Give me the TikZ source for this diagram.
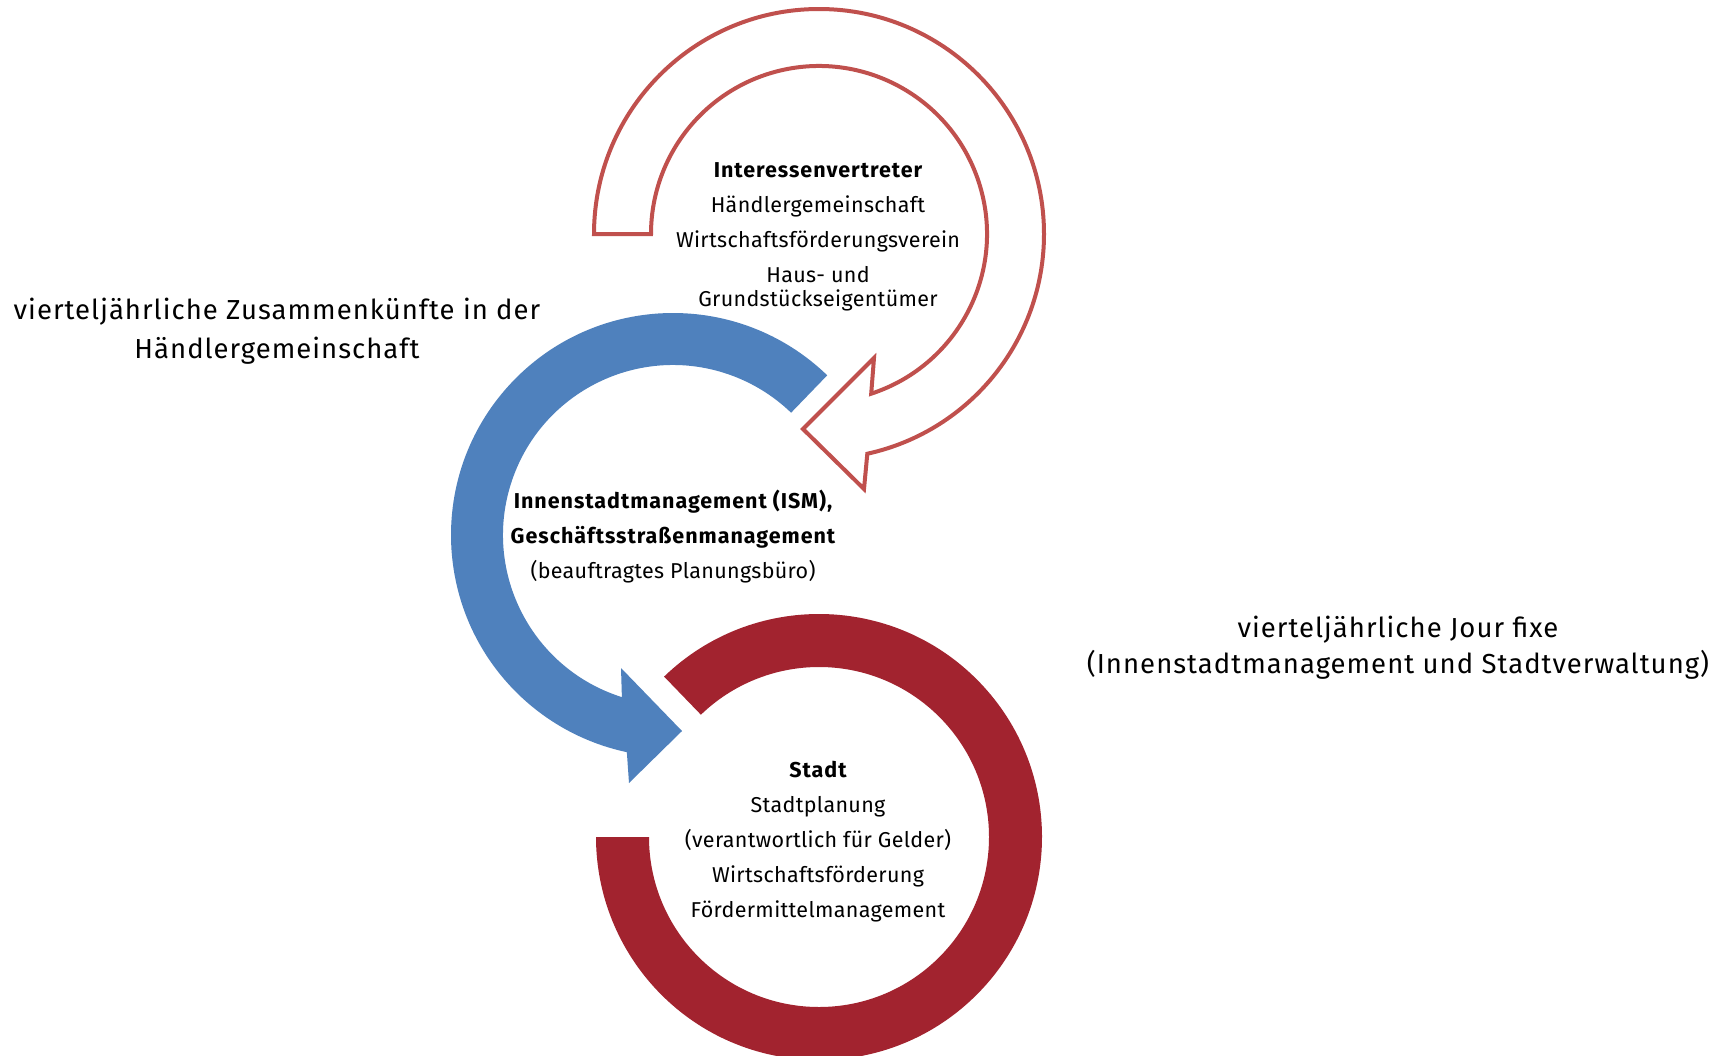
\documentclass[tikz,border=0pt]{standalone}
\usepackage{fontspec}
\setmainfont{Fira Sans}
\newfontfamily\infont[LetterSpace=1.5,BoldFeatures={LetterSpace=4.5}]{Fira Sans}
\newfontfamily\lblfont[LetterSpace=3.7]{Fira Sans}
\usetikzlibrary{calc}
\definecolor{ringblue}{HTML}{4F81BD}
\definecolor{ringred}{HTML}{A2232F}
\definecolor{outred}{HTML}{C0504D}
\begin{document}
\begin{tikzpicture}[x=1pt,y=1pt,
  txt/.style={inner sep=0pt, anchor=base, font=\infont\fontsize{21.5}{26}\selectfont},
  txtb/.style={inner sep=0pt, anchor=base, font=\infont\fontsize{21.5}{26}\selectfont\bfseries},
  lab/.style={inner sep=0pt, anchor=base, font=\lblfont\fontsize{27.5}{33}\selectfont}]
\useasboundingbox (0,0) rectangle (1723,-1055);
\fill[white] (0,0) rectangle (1723,-1055);
\coordinate (C1) at (819,-234);
\coordinate (C2) at (673,-535);
\coordinate (C3) at (819,-837);
% blue arrow
\fill[ringblue] ($(C2)+(46:170)$) -- ($(C2)+(46:222)$) arc[start angle=46,end angle=258,radius=222]
  -- (629,-783) -- (682,-731) -- (621,-668) -- ($(C2)+(252.5:170)$)
  arc[start angle=252.5,end angle=46,radius=170] -- cycle;
% dark red ring
\fill[ringred] ($(C3)+(134:223)$) arc[start angle=134,end angle=-180,radius=223]
  -- ($(C3)+(180:170)$) arc[start angle=-180,end angle=134,radius=170] -- cycle;
% outlined red arrow
\draw[outred, line width=4pt, fill=white, line join=miter]
  ($(C1)+(180:225)$) arc[start angle=180,end angle=-77.6,radius=225]
  -- (864,-489) -- (803,-429) -- (874,-358) -- ($(C1)+(-71.9:168)$)
  arc[start angle=-71.9,end angle=180,radius=168] -- cycle;
% texts: Interessenvertreter
\node[txtb] (i1) at (818,-177) {Interessenvertreter};
\node[txt] (i2) at (818,-212) {Händlergemeinschaft};
\node[txt] (i3) at (818,-247) {Wirtschaftsförderungsverein};
\node[txt] (i4) at (818,-282) {Haus- und};
\node[txt] (i5) at (818,-306) {Grundstückseigentümer};
% ISM
\node[txtb] (m1) at (673,-508) {Innenstadtmanagement (ISM),};
\node[txtb] (m2) at (673,-543) {Geschäftsstraßenmanagement};
\node[txt] (m3) at (673,-578) {(beauftragtes Planungsbüro)};
% Stadt
\node[txtb] (s1) at (818,-777) {Stadt};
\node[txt] (s2) at (818,-812) {Stadtplanung};
\node[txt] (s3) at (818,-847) {(verantwortlich für Gelder)};
\node[txt] (s4) at (818,-882) {Wirtschaftsförderung};
\node[txt] (s5) at (818,-917) {Fördermittelmanagement};
% labels
\node[lab] (l1) at (277,-319) {vierteljährliche Zusammenkünfte in der};
\node[lab] (l2) at (277,-358) {Händlergemeinschaft};
\node[lab] (r1) at (1398,-637) {vierteljährliche Jour fixe};
\node[lab] (r2) at (1398,-673) {(Innenstadtmanagement und Stadtverwaltung)};
\end{tikzpicture}
\end{document}
